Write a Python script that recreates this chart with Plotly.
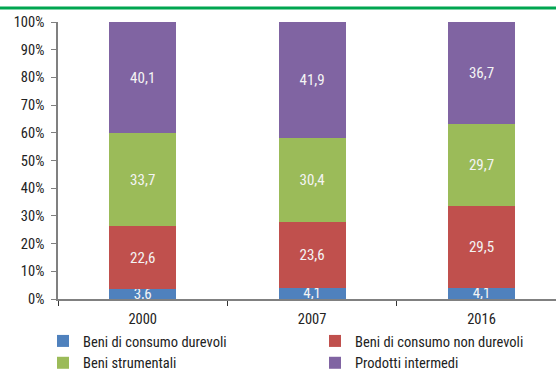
import plotly.graph_objects as go

years = ["2000", "2007", "2016"]
series_names = ["Beni di consumo durevoli", "Beni di consumo non durevoli",
                "Beni strumentali", "Prodotti intermedi"]
durevoli = [3.6, 4.1, 4.1]
non_durevoli = [22.6, 23.6, 29.5]
strumentali = [33.7, 30.4, 29.7]
intermedi = [40.1, 41.9, 36.7]
colors = ["#4F81BD", "#C0504D", "#9BBB59", "#8064A2"]
legend_ids = ["legend", "legend2", "legend", "legend2"]
y_ticks = list(range(0, 101, 10))
y_ticktext = [f"{v}%" for v in y_ticks]

FONT = "Liberation Sans Narrow, Arial Narrow, Roboto Condensed, Liberation Sans, sans-serif"
W, H = 556, 371
ML, MR, MT, MB = 58, 0, 22, 72
PW, PH = W - ML - MR, H - MT - MB
CAT_PX = 169.4  # pixel width of one category slot

fig = go.Figure()
for name, vals, col, lg in zip(series_names, [durevoli, non_durevoli, strumentali, intermedi], colors, legend_ids):
    fig.add_trace(go.Bar(
        x=years, y=vals, name=name, legend=lg,
        marker=dict(color=col, line=dict(width=0)),
        text=[f"{v:.1f}".replace(".", ",") for v in vals],
        textposition="inside", insidetextanchor="middle", textangle=0,
        constraintext="none", cliponaxis=False,
        textfont=dict(color="#F4F4F4", size=15, family=FONT),
        hoverinfo="skip",
    ))

legend_common = dict(orientation="v", yanchor="top", xanchor="left",
                     font=dict(size=14.5, family=FONT, color="#222222"),
                     itemwidth=30, tracegroupgap=0, bgcolor="rgba(0,0,0,0)",
                     traceorder="normal")
ly = (MT + PH - 325) / PH

fig.update_layout(
    barmode="stack", bargap=0.605,
    width=W, height=H,
    margin=dict(l=ML, r=MR, t=MT, b=MB, autoexpand=False),
    paper_bgcolor="white", plot_bgcolor="white",
    font=dict(family=FONT, size=14.5, color="#222222"),
    separators=",.",
    showlegend=True,
    legend=dict(x=(43 - ML) / PW, y=ly, **legend_common),
    legend2=dict(x=(315 - ML) / PW, y=ly, **legend_common),
    xaxis=dict(type="category", range=[-0.5, -0.5 + PW / CAT_PX],
               showline=True, linecolor="#808080", linewidth=1.5,
               ticks="outside", tickson="boundaries", ticklen=5, tickcolor="#333333",
               ticklabelstandoff=6,
               showgrid=False, tickfont=dict(size=14.5, family=FONT, color="#222222")),
    yaxis=dict(range=[0, 100], tickmode="array", tickvals=y_ticks, ticktext=y_ticktext,
               showline=True, linecolor="#808080", linewidth=1.5, ticks="outside",
               ticklen=5, tickcolor="#808080", showgrid=False, zeroline=False,
               ticklabelstandoff=4,
               tickfont=dict(size=14.5, family=FONT, color="#222222")),
    shapes=[dict(type="line", xref="paper", yref="paper",
                 x0=-ML / PW, x1=1 + MR / PW, y0=1 + 14 / PH, y1=1 + 14 / PH,
                 line=dict(color="#00A650", width=3))],
)

fig.write_html("out.html")
